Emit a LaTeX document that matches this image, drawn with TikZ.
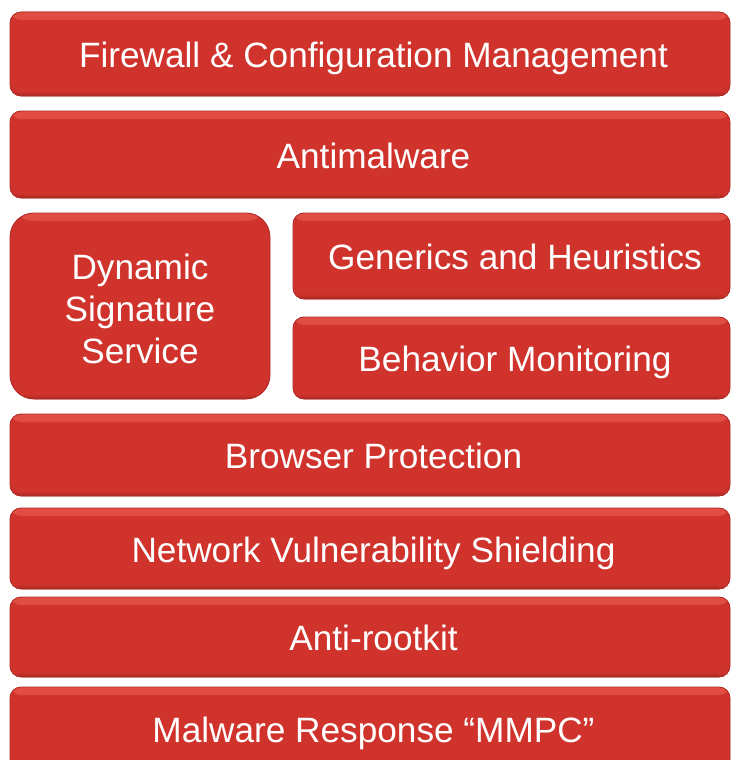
\documentclass[tikz,border=0pt]{standalone}
\usepackage{fontspec}
\setmainfont{Liberation Sans}
\definecolor{brick}{RGB}{208,51,44}
\definecolor{brickhi}{RGB}{226,78,68}
\definecolor{brickdk}{RGB}{150,36,30}
\tikzset{
  layer/.style={fill=brick,draw=brickdk!60!brick,line width=0.8pt,rounded corners=11pt,
    inner sep=0pt,text=white,font=\fontsize{35.2}{42}\selectfont,
    path picture={
      \fill[top color=brickhi,bottom color=brick]
        (path picture bounding box.north west) rectangle ([yshift=-8pt]path picture bounding box.north east);
      \fill[top color=brick,bottom color=brickdk!70!brick]
        ([yshift=5pt]path picture bounding box.south west) rectangle (path picture bounding box.south east);
    }},
  oneline/.style={text height=27.8pt,text depth=0pt,execute at begin node={\hspace*{7pt}}},
  wide/.style={layer,oneline,minimum width=720pt,minimum height=#1},
}

\begin{document}
\begin{tikzpicture}[x=1pt,y=-1pt]
    \useasboundingbox (0,0) rectangle (731,760);
    \clip (0,0) rectangle (731,760);
    % full-width layers
    \node[wide=84pt] (fw) at (370,54) {Firewall \& Configuration Management};
    \node[wide=87pt] (am) at (370,154.5) {Antimalware};
    % split row
    \node[layer,align=center,rounded corners=24pt,minimum width=260pt,minimum height=186pt] (dss) at (140,306) {\rule{0pt}{31pt}Dynamic\\Signature\\Service};
    \node[layer,oneline,minimum width=437pt,minimum height=86pt] (gh) at (511.5,256) {Generics and Heuristics};
    \node[layer,oneline,minimum width=437pt,minimum height=82pt] (bm) at (511.5,358) {Behavior Monitoring};
    % lower layers
    \node[wide=82pt] (bp) at (370,455) {Browser Protection};
    \node[wide=81pt] (nvs) at (370,548.5) {Network Vulnerability Shielding};
    \node[wide=80pt] (ar) at (370,637) {Anti-rootkit};
    \node[wide=84pt] (mr) at (370,729) {Malware Response “MMPC”};
\end{tikzpicture}
\end{document}
